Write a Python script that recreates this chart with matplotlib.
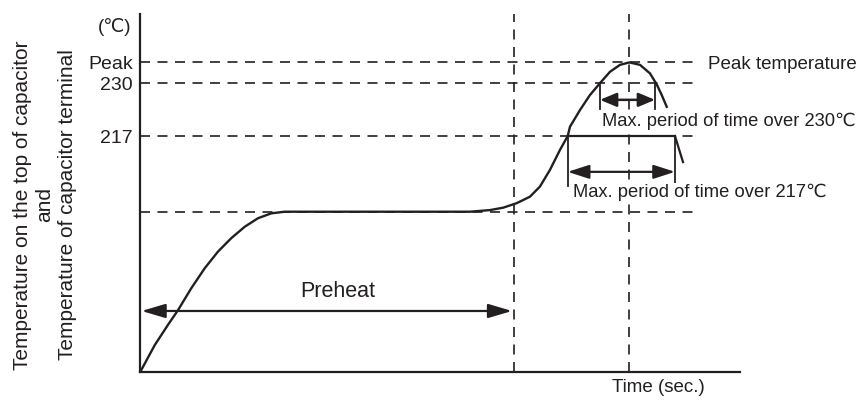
import matplotlib
matplotlib.use("Agg")
import matplotlib.pyplot as plt

plt.rcParams['font.family'] = ['Liberation Sans', 'DejaVu Sans']

INK = '#231f20'

# reflow profile (time in s, temperature in C, schematic)
time_rise = [0, 0.65, 7.35, 14, 19, 25.65, 32.35, 39, 45.65, 52.35, 59, 65.65,
             72.35, 120, 165, 175, 181.65, 188.35, 195, 200, 205, 210, 213.85,
             215, 220, 225, 230, 235, 240, 244.65, 250, 255, 258.35, 260.85,
             263.35]
temp_rise = [159, 159.5, 165.6, 170.6, 174.2, 179.6, 184.5, 188.6, 191.9, 194.7,
             196.8, 198.0, 198.4, 198.4, 198.4, 198.8, 199.4, 200.5, 202.1,
             204.6, 208.7, 213.6, 217, 219.3, 223.4, 227.1, 230, 232.8, 234.5,
             235.1, 234.5, 232.4, 229.7, 227.1, 224.2]
time_tail = [267.5, 271.5]
temp_tail = [217, 210.6]

peak_temp = 235.1
preheat_temp = 198.4
level_temps = [peak_temp, 230, 217, preheat_temp]
level_end = 278.5
preheat_end = 187
peak_time = 244.65

t230 = [230, 257.5]
t217 = [213.85, 267.5]

ytick_vals = [217, 230, peak_temp]
ytick_labels = ['217', '230', 'Peak']

fig = plt.figure(figsize=(8.57, 4.03), dpi=100)
ax = fig.add_axes([140 / 857, 31 / 403, 600 / 857, 358 / 403])
ax.set_xlim(0, 300)
ax.set_ylim(159, 247)

dash = dict(color=INK, lw=1.2, dashes=(6, 4.5))
for y in level_temps:
    ax.plot([0, level_end], [y, y], **dash)
for x in [preheat_end, peak_time]:
    ax.plot([x, x], [159, 247], **dash)

ax.plot(time_rise, temp_rise, color=INK, lw=1.7, solid_joinstyle='round')
ax.plot(time_tail, temp_tail, color=INK, lw=1.6)

# over 230 span
for x in t230:
    ax.plot([x, x], [230, 223.6], color=INK, lw=1.3)
ax.annotate('', xy=(t230[0], 225.9), xytext=(t230[1], 225.9),
            arrowprops=dict(arrowstyle='<|-|>,head_length=1.0,head_width=0.42',
                            mutation_scale=10, color=INK, lw=1.8,
                            shrinkA=0, shrinkB=0))
# over 217 span
ax.plot(t217, [217, 217], color=INK, lw=1.6)
for x in t217:
    ax.plot([x, x], [217, 204.7], color=INK, lw=1.3)
ax.annotate('', xy=(t217[0], 208.2), xytext=(t217[1], 208.2),
            arrowprops=dict(arrowstyle='<|-|>,head_length=1.3,head_width=0.42',
                            mutation_scale=10, color=INK, lw=1.6,
                            shrinkA=0, shrinkB=0))
# preheat span
ax.annotate('', xy=(0.8, 174.0), xytext=(186, 174.0),
            arrowprops=dict(arrowstyle='<|-|>,head_length=1.45,head_width=0.43',
                            mutation_scale=10, color=INK, lw=1.6,
                            shrinkA=0, shrinkB=0))

box = dict(facecolor='white', edgecolor='none', pad=0.5)
ax.text(99, 178.7, 'Preheat', fontsize=15.5, ha='center', va='center', color=INK)
ax.text(231, 220.5, 'Max. period of time over 230\u2103', fontsize=13.2,
        ha='left', va='center', color=INK, clip_on=False, bbox=box)
ax.text(216.5, 203.2, 'Max. period of time over 217\u2103', fontsize=13.2,
        ha='left', va='center', color=INK, clip_on=False, bbox=box)
ax.text(284, 234.7, 'Peak temperature', fontsize=13.5, ha='left', va='center',
        color=INK, clip_on=False)
ax.text(259, 155.1, 'Time (sec.)', fontsize=13.5, ha='center', va='center',
        color=INK, clip_on=False)
ax.text(-12.5, 243.8, '(\u2103)', fontsize=13.5, ha='center', va='center',
        color=INK, clip_on=False)

fig.text(45 / 857, 1 - 205 / 403,
         'Temperature on the top of capacitor\nand\nTemperature of capacitor terminal',
         rotation=90, fontsize=15, ha='center', va='center', ma='center',
         color=INK, linespacing=1.25)

ax.set_yticks(ytick_vals)
ax.set_yticklabels(ytick_labels, fontsize=14, color=INK)
ax.tick_params(axis='y', length=0, pad=5)
ax.set_xticks([])
for side in ['top', 'right']:
    ax.spines[side].set_visible(False)
for side in ['left', 'bottom']:
    ax.spines[side].set_color(INK)
    ax.spines[side].set_linewidth(1.6)

fig.savefig('out.png', dpi=100)
